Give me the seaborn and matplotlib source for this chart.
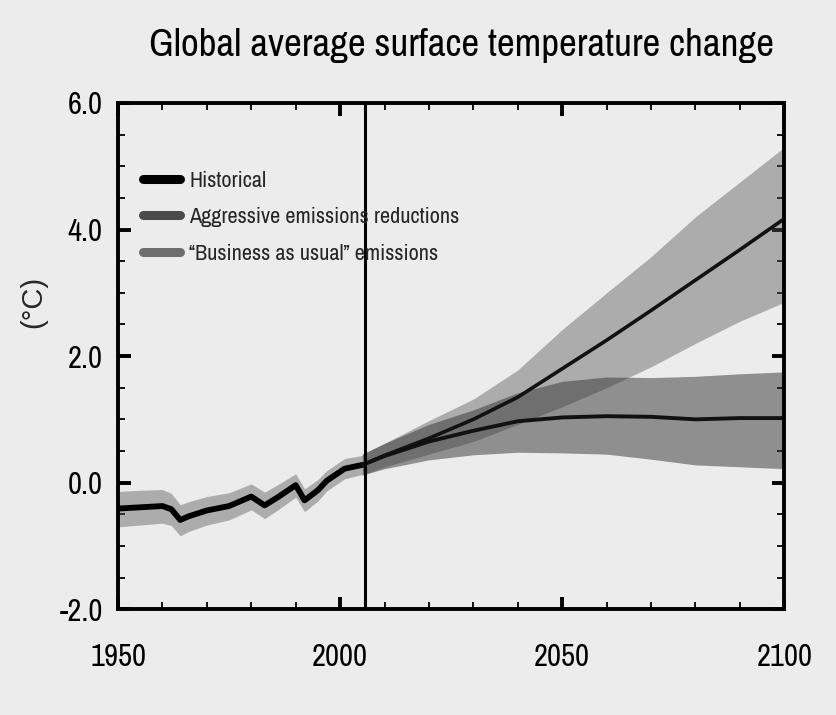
import numpy as np
import pandas as pd
import matplotlib
matplotlib.use("Agg")
import matplotlib.pyplot as plt
from matplotlib.lines import Line2D
from matplotlib.ticker import MultipleLocator, FormatStrFormatter
import seaborn as sns

# ---- data ----
hist_years = [1950, 1955, 1960, 1962, 1964, 1966, 1970, 1975, 1980, 1983,
              1986, 1990, 1992, 1995, 1997, 2001, 2005]
hist_mean = [-0.41, -0.39, -0.37, -0.42, -0.59, -0.53, -0.44, -0.37, -0.22, -0.36,
             -0.23, -0.04, -0.28, -0.12, 0.03, 0.22, 0.28]
hist_upper = [-0.14, -0.12, -0.11, -0.17, -0.35, -0.30, -0.22, -0.16, -0.02, -0.15,
              -0.03, 0.14, -0.10, 0.05, 0.19, 0.38, 0.43]
hist_lower = [-0.70, -0.67, -0.64, -0.68, -0.84, -0.77, -0.67, -0.59, -0.43, -0.57,
              -0.43, -0.23, -0.46, -0.29, -0.13, 0.06, 0.13]

fut_years = [2005, 2010, 2020, 2030, 2040, 2050, 2060, 2070, 2080, 2090, 2100]
bau_mean = [0.28, 0.43, 0.70, 1.00, 1.35, 1.80, 2.25, 2.72, 3.20, 3.68, 4.17]
bau_upper = [0.45, 0.62, 0.98, 1.32, 1.78, 2.42, 3.00, 3.57, 4.20, 4.75, 5.30]
bau_lower = [0.12, 0.25, 0.45, 0.65, 0.92, 1.20, 1.50, 1.83, 2.20, 2.55, 2.85]

agg_mean = [0.28, 0.42, 0.65, 0.82, 0.97, 1.03, 1.05, 1.04, 1.00, 1.02, 1.02]
agg_upper = [0.45, 0.62, 0.92, 1.15, 1.42, 1.60, 1.67, 1.66, 1.68, 1.72, 1.75]
agg_lower = [0.12, 0.22, 0.36, 0.44, 0.48, 0.47, 0.45, 0.37, 0.28, 0.25, 0.22]

present_year = 2005.5

labels = ["Historical", "Aggressive emissions reductions", "\u201cBusiness as usual\u201d emissions"]
title = "Global average surface temperature change"
ylabel = "(\u00b0C)"

# ---- style ----
sns.set_style("ticks")
plt.rcParams['font.family'] = ['Archivo Narrow', 'PT Sans Narrow', 'Roboto Condensed',
                               'Liberation Sans', 'DejaVu Sans']
plt.rcParams['axes.unicode_minus'] = False
bg = "#ececec"

fig = plt.figure(figsize=(8.37, 7.15), dpi=100, facecolor=bg)
ax = fig.add_axes([0.141, 0.148, 0.796, 0.708])
ax.set_facecolor(bg)

df_hist = pd.DataFrame({"year": hist_years, "temp": hist_mean})
df_bau = pd.DataFrame({"year": fut_years, "temp": bau_mean})
df_agg = pd.DataFrame({"year": fut_years, "temp": agg_mean})

ax.fill_between(hist_years, hist_lower, hist_upper, color="#555555", alpha=0.42, lw=0)
ax.fill_between(fut_years, bau_lower, bau_upper, color="#555555", alpha=0.42, lw=0)
ax.fill_between(fut_years, agg_lower, agg_upper, color="#333333", alpha=0.5, lw=0)

sns.lineplot(data=df_hist, x="year", y="temp", ax=ax, color="black", lw=4.2)
sns.lineplot(data=df_bau, x="year", y="temp", ax=ax, color="#111111", lw=2.6)
sns.lineplot(data=df_agg, x="year", y="temp", ax=ax, color="#111111", lw=2.8)

ax.axvline(present_year, color="black", lw=2.2)

ax.set_xlim(1950, 2100)
ax.set_ylim(-2.0, 6.0)
ax.xaxis.set_major_locator(MultipleLocator(50))
ax.xaxis.set_minor_locator(MultipleLocator(10))
ax.yaxis.set_major_locator(MultipleLocator(2))
ax.yaxis.set_minor_locator(MultipleLocator(0.5))
ax.yaxis.set_major_formatter(FormatStrFormatter('%.1f'))
ax.tick_params(which="both", direction="in", top=True, right=True, colors="black")
ax.tick_params(which="major", length=9, width=2.8, labelsize=22)
ax.tick_params(axis="x", which="major", pad=24)
ax.tick_params(axis="y", which="major", pad=11)
ax.tick_params(which="minor", length=5, width=1.3)
for s in ax.spines.values():
    s.set_linewidth(2.8)
    s.set_color("black")

ax.set_xlabel("")
ax.set_ylabel(ylabel, fontsize=21, family=['Liberation Sans', 'DejaVu Sans'])
ax.yaxis.set_label_coords(-0.106, 0.607)
fig.text(0.551, 0.937, title, ha="center", va="center", fontsize=28, color="black")

handles = [
    Line2D([], [], color="black", lw=6.5),
    Line2D([], [], color="#4a4a4a", lw=6.5),
    Line2D([], [], color="#6e6e6e", lw=6.5),
]
leg = ax.legend(handles, labels, loc="upper left", bbox_to_anchor=(0.037, 0.866),
                frameon=False, fontsize=16, handlelength=1.7, handletextpad=0.4,
                labelspacing=0.74, borderpad=0, borderaxespad=0)

fig.savefig("out.png", dpi=100, facecolor=bg)
